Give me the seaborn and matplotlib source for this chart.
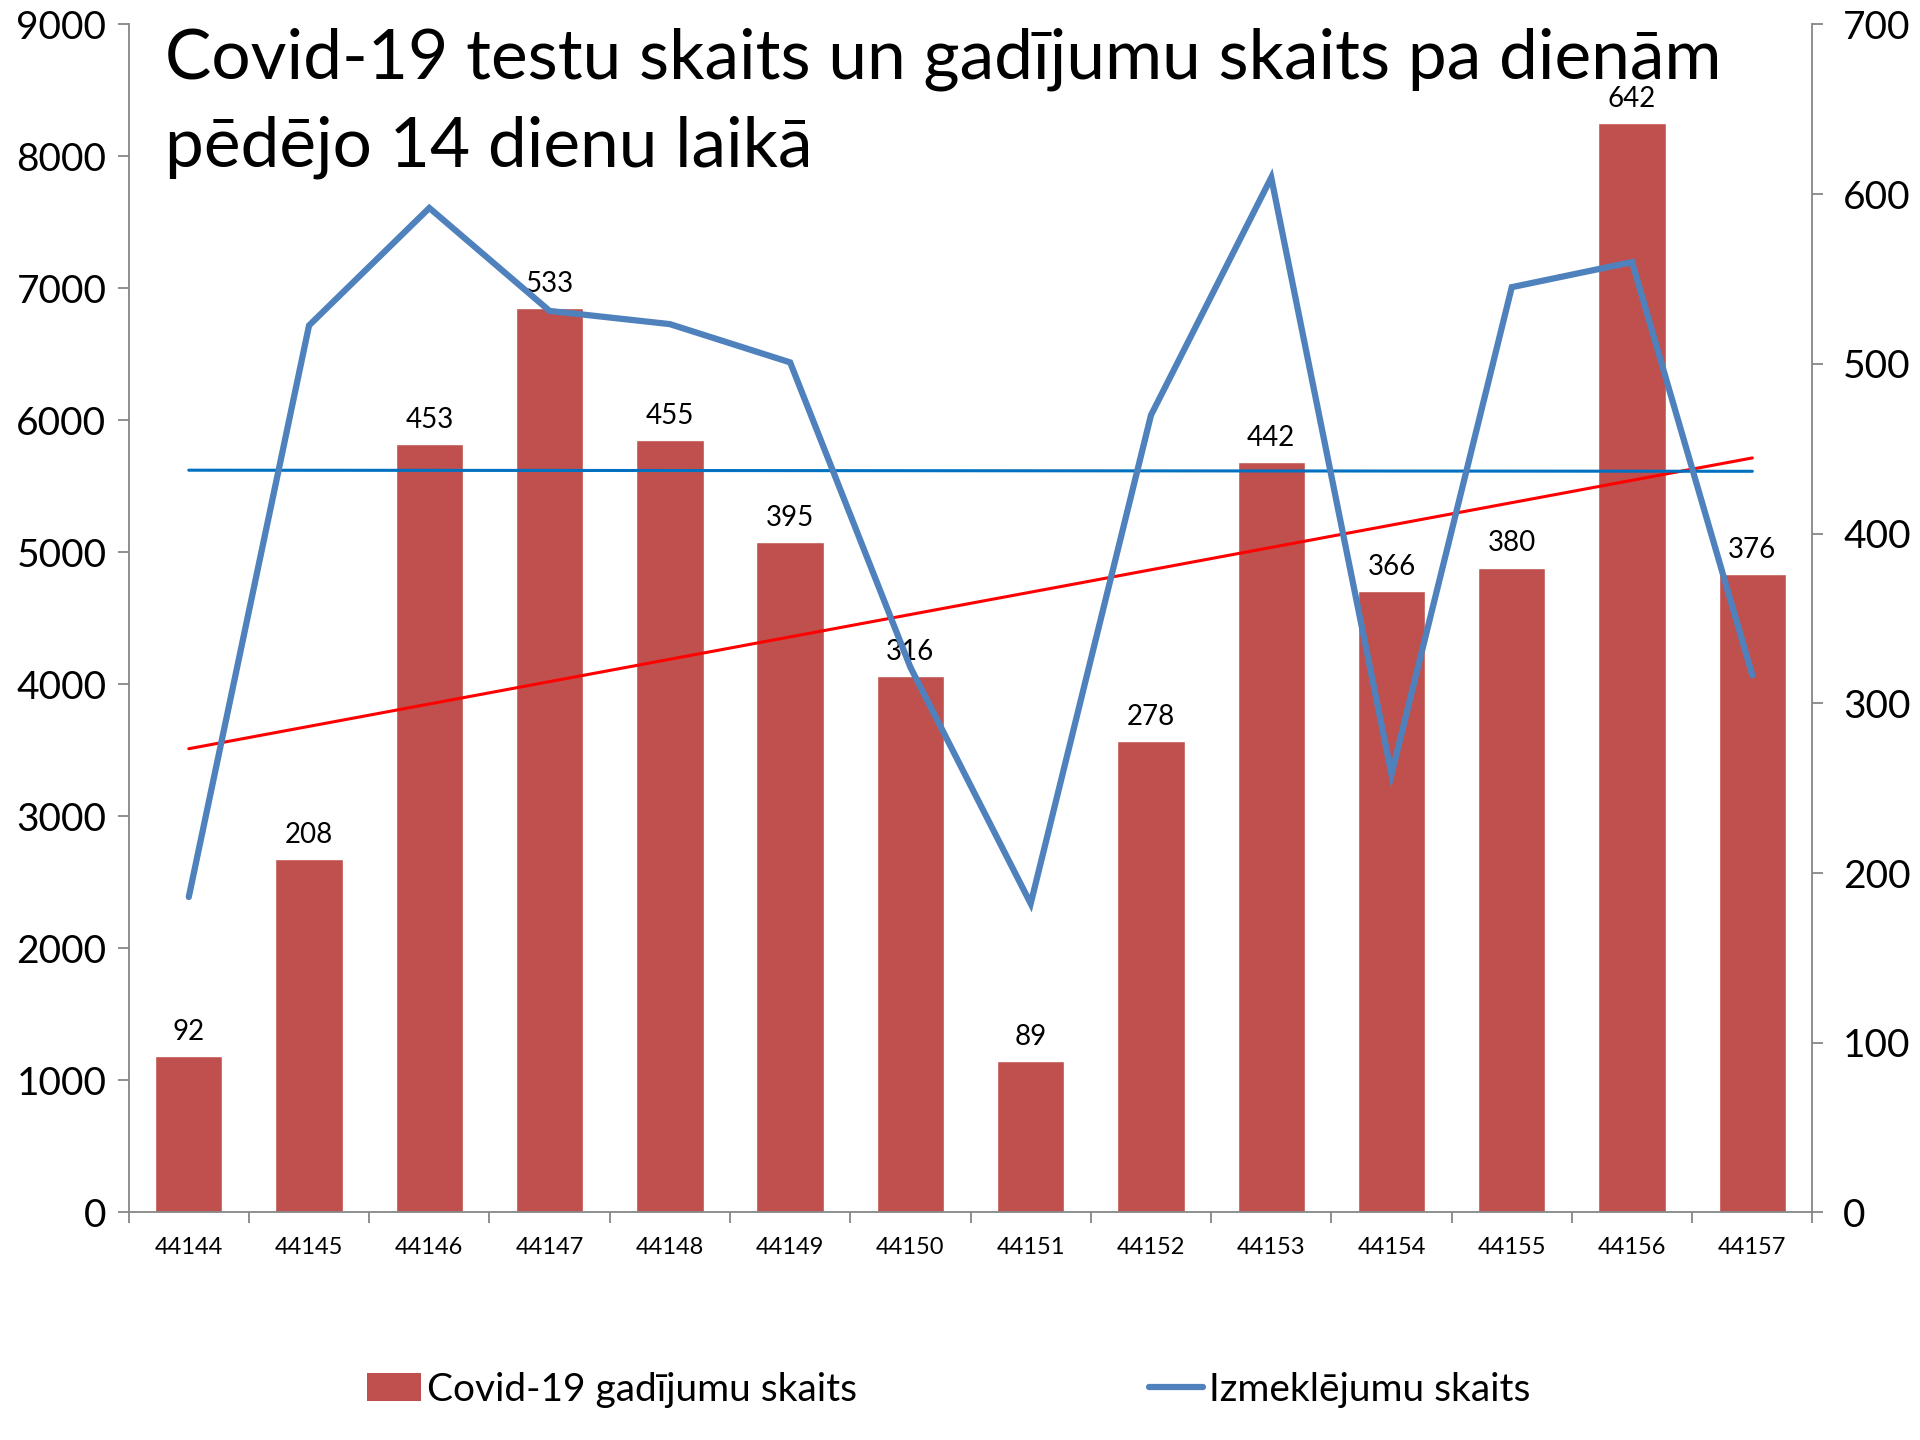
import numpy as np
import pandas as pd
import seaborn as sns
import matplotlib.pyplot as plt
from matplotlib.patches import Patch
from matplotlib.lines import Line2D

sns.set_theme(style="white")
plt.rcParams["font.family"] = ["Lato", "DejaVu Sans"]
plt.rcParams["text.color"] = "black"

days = ["44144", "44145", "44146", "44147", "44148", "44149", "44150",
        "44151", "44152", "44153", "44154", "44155", "44156", "44157"]
cases = [92, 208, 453, 533, 455, 395, 316, 89, 278, 442, 366, 380, 642, 376]
tests = [2390, 6720, 7610, 6830, 6730, 6440, 4130, 2340, 6040, 7840, 3320, 7010, 7200, 4070]

bar_color = "#C0504D"
line_color = "#4F81BD"
axis_grey = "#868686"

df = pd.DataFrame({"day": days, "cases": cases, "tests": tests})
df["pos"] = np.arange(len(df))

fig = plt.figure(figsize=(19.2, 14.4), dpi=100)
ax = fig.add_axes([0.067, 0.158, 0.877, 0.825])

# bars belong to the right-hand axis (cases)
sns.barplot(data=df, x="day", y="cases", color=bar_color, saturation=1,
            width=0.56, ax=ax, zorder=2)
ax.bar_label(ax.containers[0], padding=8, fontsize=20, color="black")
ax.set_ylim(0, 700)
ax.set_yticks(range(0, 701, 100))
ax.yaxis.tick_right()
ax.set_xlim(-0.5, len(days) - 0.5)

# linear trend of cases
k, b = np.polyfit(df["pos"], df["cases"], 1)
ax.plot(df["pos"], k * df["pos"] + b, color="#FF0000", lw=2.2, zorder=3)

# tests on the left-hand axis, drawn on top
ax2 = ax.twinx()
ax2.yaxis.tick_left()
k2, b2 = np.polyfit(df["pos"], df["tests"], 1)
ax2.plot(df["pos"], k2 * df["pos"] + b2, color="#0070C0", lw=2.2, zorder=2)
sns.lineplot(data=df, x="pos", y="tests", color=line_color, lw=4.5, ax=ax2,
             zorder=3, solid_capstyle="round", solid_joinstyle="miter")
ax2.set_ylim(0, 9000)
ax2.set_yticks(range(0, 9001, 1000))
ax2.set_xlim(-0.5, len(days) - 0.5)

for a in (ax, ax2):
    a.set_xlabel("")
    a.set_ylabel("")
    a.spines["top"].set_visible(False)
    for s in ("left", "right", "bottom"):
        a.spines[s].set_color(axis_grey)
        a.spines[s].set_linewidth(1.3)

ax.spines["left"].set_visible(False)
ax2.spines["bottom"].set_visible(False)
ax2.spines["right"].set_visible(False)

ax.tick_params(axis="y", right=True, left=False, labelright=True, labelleft=False,
               length=8, width=1.3, color=axis_grey, labelsize=28, pad=14,
               labelcolor="black")
ax2.tick_params(axis="y", left=True, right=False, labelleft=True, labelright=False,
                length=8, width=1.3, color=axis_grey, labelsize=28, pad=8,
                labelcolor="black")

ax.set_xticks(range(len(days)))
ax.set_xticklabels(days)
ax.set_xticks(np.arange(-0.5, len(days), 1), minor=True)
ax.tick_params(axis="x", which="major", length=0, labelsize=17, pad=18,
               labelcolor="black")
ax.tick_params(axis="x", which="minor", bottom=True, length=8, width=1.3,
               color=axis_grey)

fig.text(0.086, 0.981, "Covid-19 testu skaits un gadījumu skaits pa dienām\npēdējo 14 dienu laikā",
         fontsize=50, va="top", ha="left", linespacing=1.48, color="black")

handles = [Patch(facecolor=bar_color, edgecolor="none"),
           Line2D([0], [0], color=line_color, lw=4.5, solid_capstyle="round")]
fig.legend(handles, ["Covid-19 gadījumu skaits", "Izmeklējumu skaits"],
           loc="center", bbox_to_anchor=(0.494, 0.035), ncol=2, frameon=False,
           fontsize=28, handlelength=1.4, handletextpad=0.15, columnspacing=7.5,
           labelcolor="black")

fig.savefig("out.png", dpi=100)
